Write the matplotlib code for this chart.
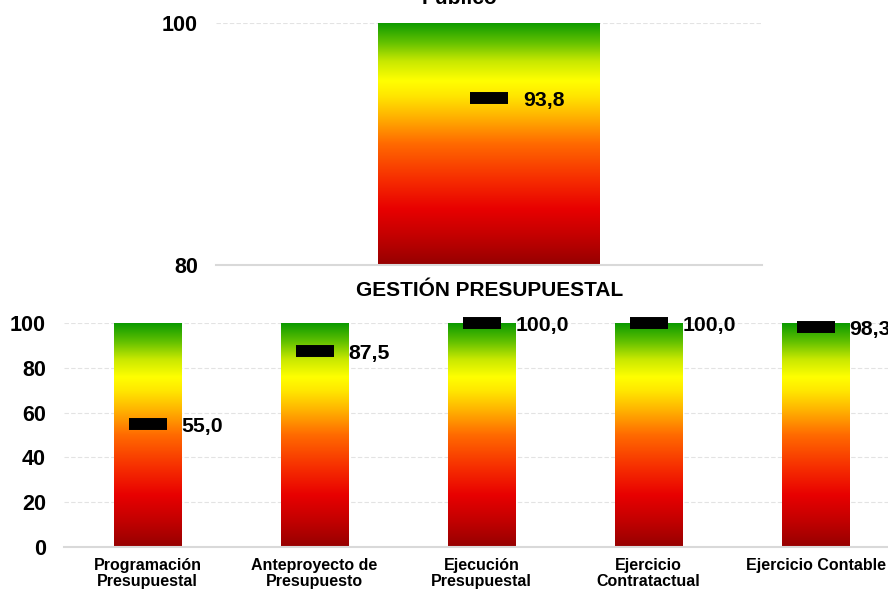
import numpy as np
import matplotlib
matplotlib.use('Agg')
import matplotlib.pyplot as plt
from matplotlib.colors import LinearSegmentedColormap

plt.rcParams['font.family'] = ['Liberation Sans', 'DejaVu Sans']
plt.rcParams['font.weight'] = 'bold'

# data
top_title = 'Público'
top_categories = ['Público']
top_values = [93.8]
top_max = [100]

bottom_title = 'GESTIÓN PRESUPUESTAL'
bottom_categories = ['Programación\nPresupuestal', 'Anteproyecto de\nPresupuesto',
                     'Ejecución\nPresupuestal', 'Ejercicio\nContratactual',
                     'Ejercicio Contable']
bottom_values = [55.0, 87.5, 100.0, 100.0, 98.3]
bottom_max = [100, 100, 100, 100, 100]

# red -> yellow -> green gradient
semaforo = LinearSegmentedColormap.from_list('semaforo', [
    (0.00, '#960000'),
    (0.12, '#c40000'),
    (0.23, '#e80000'),
    (0.36, '#f73000'),
    (0.50, '#ff6a00'),
    (0.62, '#ffb800'),
    (0.70, '#ffe800'),
    (0.76, '#ffff00'),
    (0.84, '#c8e800'),
    (0.92, '#60c000'),
    (1.00, '#0c9a00'),
])
grad = np.linspace(0, 1, 256).reshape(-1, 1)

W, H = 888, 590
fig = plt.figure(figsize=(W / 100, H / 100), dpi=100)


def panel(rect, cats, values, maxes, ylim, yticks):
    ax = fig.add_axes(rect)
    x = np.arange(len(cats))
    bars = ax.bar(x, maxes, width=0.405, color='none', zorder=2)
    for b in bars:
        x0 = b.get_x()
        im = ax.imshow(grad, cmap=semaforo, aspect='auto', origin='lower',
                       extent=(x0, x0 + b.get_width(), ylim[0], b.get_height()),
                       zorder=2)
        im.set_clip_path(b)
    ax.plot(x, values, linestyle='none', marker='_', ms=28, mew=8.6,
            color='black', zorder=4, clip_on=False)
    for xi, v in zip(x, values):
        ax.annotate(f'{v:.1f}'.replace('.', ','), (xi, v), xytext=(24.5, -2),
                    textcoords='offset points', ha='left', va='center',
                    fontsize=15.3, fontweight='bold', annotation_clip=False,
                    zorder=5)
    ax.set_xlim(-0.5, len(cats) - 0.5)
    ax.set_ylim(*ylim)
    ax.set_yticks(yticks)
    ax.set_xticks(x)
    ax.set_xticklabels(cats, fontsize=11.5, fontweight='bold', linespacing=1.05)
    ax.tick_params(axis='y', length=0, pad=13, labelsize=15.5)
    ax.tick_params(axis='x', length=0, pad=8)
    for lab in ax.get_yticklabels():
        lab.set_fontweight('bold')
    for s in ['top', 'right', 'left']:
        ax.spines[s].set_visible(False)
    ax.spines['bottom'].set_color('#d9d9d9')
    ax.spines['bottom'].set_linewidth(1.5)
    for t in yticks[1:]:
        ax.axhline(t, color='#e3e3e3', lw=0.8, ls=(0, (4, 2)), zorder=1)
    return ax


# top panel
ax1 = panel((216 / W, (H - 265) / H, 546 / W, 242 / H), top_categories,
            top_values, top_max, (80, 100), [80, 100])
ax1.set_xticklabels([''])
fig.text(459 / W, 1 - 4 / H, top_title, ha='center', va='baseline',
         fontsize=15, fontweight='bold')

# bottom panel (extends past the right edge like the original)
ax2 = panel((64 / W, (H - 547) / H, 835 / W, 224 / H), bottom_categories,
            bottom_values, bottom_max, (0, 100), [0, 20, 40, 60, 80, 100])
fig.text(490 / W, 1 - 290 / H, bottom_title, ha='center', va='center',
         fontsize=15, fontweight='bold')

fig.savefig('out.png', dpi=100)
